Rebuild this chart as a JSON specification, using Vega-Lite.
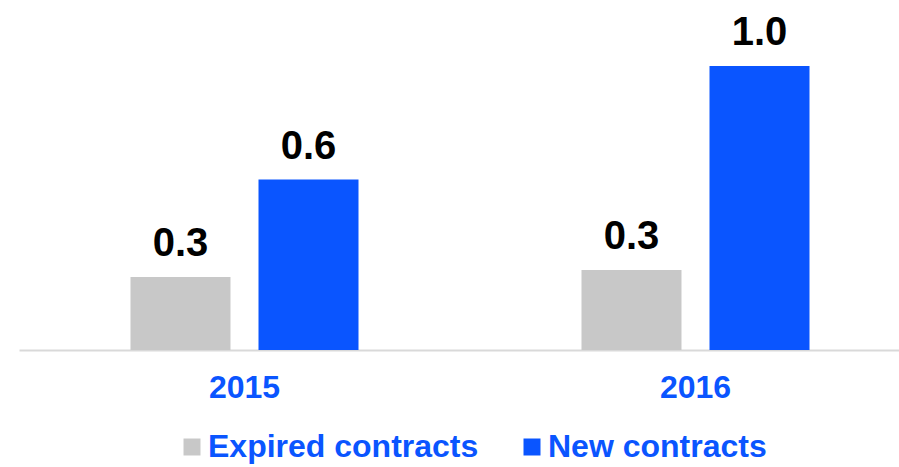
{
  "$schema": "https://vega.github.io/schema/vega-lite/v6.json",
  "width": 902,
  "height": 350,
  "autosize": {"type": "none"},
  "padding": {"left": 19, "top": 0, "right": 0, "bottom": 117},
  "background": "white",
  "config": {"view": {"stroke": null}, "font": "Liberation Sans"},
  "data": {"values": [
    {"year": "2015", "type": "Expired contracts", "value": 0.257},
    {"year": "2015", "type": "New contracts", "value": 0.6},
    {"year": "2016", "type": "Expired contracts", "value": 0.282},
    {"year": "2016", "type": "New contracts", "value": 1.0}
  ]},
  "encoding": {
    "x": {"field": "year", "type": "nominal", "scale": {"paddingInner": 0, "paddingOuter": 0},
      "axis": {"title": null, "labelAngle": 0, "labelFont": "Liberation Sans", "labelFontSize": 32, "labelFontWeight": "bold", "labelColor": "#0A55FF", "ticks": false, "domainColor": "#D9D9D9", "domainWidth": 2, "labelPadding": 22, "grid": false}},
    "xOffset": {"field": "type", "type": "nominal", "scale": {"paddingInner": 0.21875, "paddingOuter": 0.871}},
    "y": {"field": "value", "type": "quantitative", "scale": {"domain": [0, 1.2324]}, "axis": null}
  },
  "layer": [
    {
      "mark": {"type": "bar"},
      "encoding": {
        "color": {"field": "type", "type": "nominal", "scale": {"domain": ["Expired contracts", "New contracts"], "range": ["#C8C8C8", "#0A55FF"]},
          "legend": {"title": null, "orient": "none", "legendX": 157, "legendY": 431, "direction": "horizontal", "symbolType": "square", "symbolSize": 289, "symbolStrokeWidth": 0, "labelFont": "Liberation Sans", "labelFontSize": 32, "labelFontWeight": "bold", "labelColor": "#0A55FF", "labelOffset": 0, "columnPadding": 37, "labelLimit": 400}}
      }
    },
    {
      "mark": {"type": "text", "dy": -21, "baseline": "alphabetic", "fontSize": 40, "fontWeight": "bold", "color": "black", "font": "Liberation Sans"},
      "encoding": {"text": {"field": "value", "type": "quantitative", "format": ".1f"}}
    }
  ]
}
